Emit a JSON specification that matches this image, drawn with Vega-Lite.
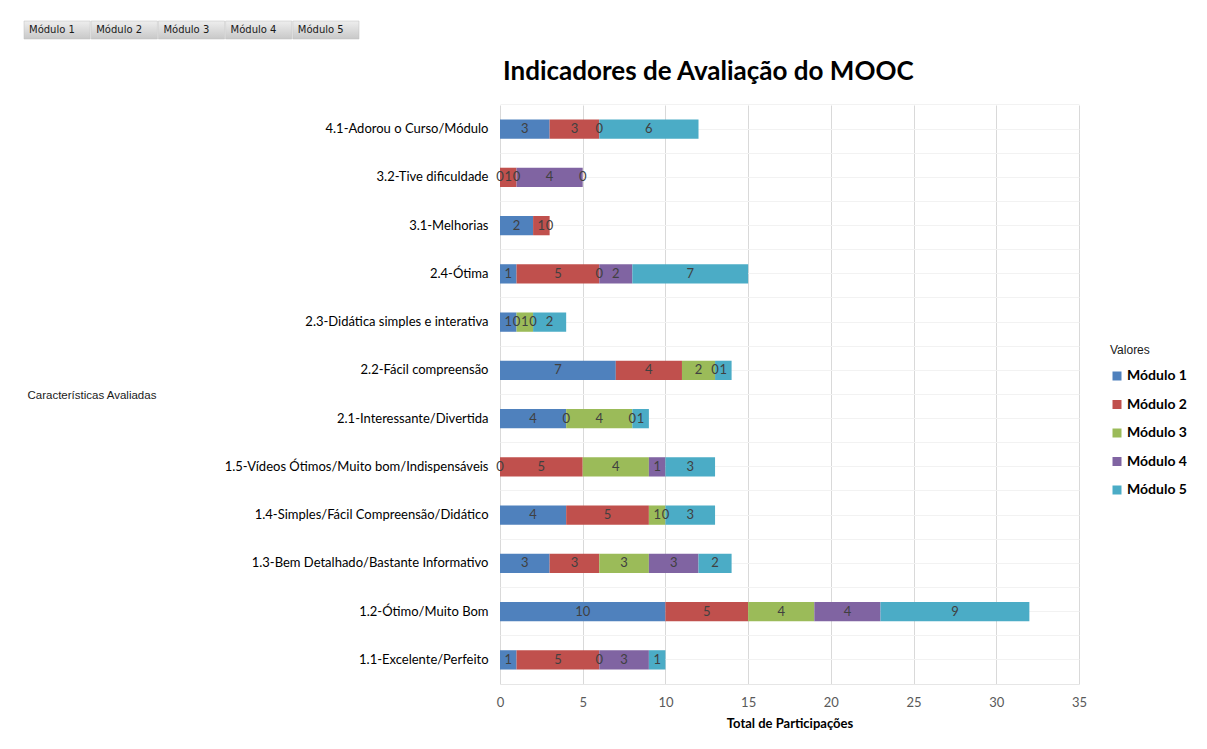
{
  "$schema": "https://vega.github.io/schema/vega-lite/v6.json",
  "background": "white",
  "padding": {"left": 23, "top": 20, "right": 0, "bottom": 0},
  "datasets": {
    "botoes": [
      {"modulo": "Módulo 1"},
      {"modulo": "Módulo 2"},
      {"modulo": "Módulo 3"},
      {"modulo": "Módulo 4"},
      {"modulo": "Módulo 5"}
    ],
    "dados": [
      {"cat": "4.1-Adorou o Curso/Módulo", "modulo": "Módulo 1", "v": 3},
      {"cat": "4.1-Adorou o Curso/Módulo", "modulo": "Módulo 2", "v": 3},
      {"cat": "4.1-Adorou o Curso/Módulo", "modulo": "Módulo 3", "v": 0},
      {"cat": "4.1-Adorou o Curso/Módulo", "modulo": "Módulo 5", "v": 6},
      {"cat": "3.2-Tive dificuldade", "modulo": "Módulo 1", "v": 0},
      {"cat": "3.2-Tive dificuldade", "modulo": "Módulo 2", "v": 1},
      {"cat": "3.2-Tive dificuldade", "modulo": "Módulo 3", "v": 0},
      {"cat": "3.2-Tive dificuldade", "modulo": "Módulo 4", "v": 4},
      {"cat": "3.2-Tive dificuldade", "modulo": "Módulo 5", "v": 0},
      {"cat": "3.1-Melhorias", "modulo": "Módulo 1", "v": 2},
      {"cat": "3.1-Melhorias", "modulo": "Módulo 2", "v": 1},
      {"cat": "3.1-Melhorias", "modulo": "Módulo 3", "v": 0},
      {"cat": "2.4-Ótima", "modulo": "Módulo 1", "v": 1},
      {"cat": "2.4-Ótima", "modulo": "Módulo 2", "v": 5},
      {"cat": "2.4-Ótima", "modulo": "Módulo 3", "v": 0},
      {"cat": "2.4-Ótima", "modulo": "Módulo 4", "v": 2},
      {"cat": "2.4-Ótima", "modulo": "Módulo 5", "v": 7},
      {"cat": "2.3-Didática simples e interativa", "modulo": "Módulo 1", "v": 1},
      {"cat": "2.3-Didática simples e interativa", "modulo": "Módulo 2", "v": 0},
      {"cat": "2.3-Didática simples e interativa", "modulo": "Módulo 3", "v": 1},
      {"cat": "2.3-Didática simples e interativa", "modulo": "Módulo 4", "v": 0},
      {"cat": "2.3-Didática simples e interativa", "modulo": "Módulo 5", "v": 2},
      {"cat": "2.2-Fácil compreensão", "modulo": "Módulo 1", "v": 7},
      {"cat": "2.2-Fácil compreensão", "modulo": "Módulo 2", "v": 4},
      {"cat": "2.2-Fácil compreensão", "modulo": "Módulo 3", "v": 2},
      {"cat": "2.2-Fácil compreensão", "modulo": "Módulo 4", "v": 0},
      {"cat": "2.2-Fácil compreensão", "modulo": "Módulo 5", "v": 1},
      {"cat": "2.1-Interessante/Divertida", "modulo": "Módulo 1", "v": 4},
      {"cat": "2.1-Interessante/Divertida", "modulo": "Módulo 2", "v": 0},
      {"cat": "2.1-Interessante/Divertida", "modulo": "Módulo 3", "v": 4},
      {"cat": "2.1-Interessante/Divertida", "modulo": "Módulo 4", "v": 0},
      {"cat": "2.1-Interessante/Divertida", "modulo": "Módulo 5", "v": 1},
      {"cat": "1.5-Vídeos Ótimos/Muito bom/Indispensáveis", "modulo": "Módulo 1", "v": 0},
      {"cat": "1.5-Vídeos Ótimos/Muito bom/Indispensáveis", "modulo": "Módulo 2", "v": 5},
      {"cat": "1.5-Vídeos Ótimos/Muito bom/Indispensáveis", "modulo": "Módulo 3", "v": 4},
      {"cat": "1.5-Vídeos Ótimos/Muito bom/Indispensáveis", "modulo": "Módulo 4", "v": 1},
      {"cat": "1.5-Vídeos Ótimos/Muito bom/Indispensáveis", "modulo": "Módulo 5", "v": 3},
      {"cat": "1.4-Simples/Fácil Compreensão/Didático", "modulo": "Módulo 1", "v": 4},
      {"cat": "1.4-Simples/Fácil Compreensão/Didático", "modulo": "Módulo 2", "v": 5},
      {"cat": "1.4-Simples/Fácil Compreensão/Didático", "modulo": "Módulo 3", "v": 1},
      {"cat": "1.4-Simples/Fácil Compreensão/Didático", "modulo": "Módulo 4", "v": 0},
      {"cat": "1.4-Simples/Fácil Compreensão/Didático", "modulo": "Módulo 5", "v": 3},
      {"cat": "1.3-Bem Detalhado/Bastante Informativo", "modulo": "Módulo 1", "v": 3},
      {"cat": "1.3-Bem Detalhado/Bastante Informativo", "modulo": "Módulo 2", "v": 3},
      {"cat": "1.3-Bem Detalhado/Bastante Informativo", "modulo": "Módulo 3", "v": 3},
      {"cat": "1.3-Bem Detalhado/Bastante Informativo", "modulo": "Módulo 4", "v": 3},
      {"cat": "1.3-Bem Detalhado/Bastante Informativo", "modulo": "Módulo 5", "v": 2},
      {"cat": "1.2-Ótimo/Muito Bom", "modulo": "Módulo 1", "v": 10},
      {"cat": "1.2-Ótimo/Muito Bom", "modulo": "Módulo 2", "v": 5},
      {"cat": "1.2-Ótimo/Muito Bom", "modulo": "Módulo 3", "v": 4},
      {"cat": "1.2-Ótimo/Muito Bom", "modulo": "Módulo 4", "v": 4},
      {"cat": "1.2-Ótimo/Muito Bom", "modulo": "Módulo 5", "v": 9},
      {"cat": "1.1-Excelente/Perfeito", "modulo": "Módulo 1", "v": 1},
      {"cat": "1.1-Excelente/Perfeito", "modulo": "Módulo 2", "v": 5},
      {"cat": "1.1-Excelente/Perfeito", "modulo": "Módulo 3", "v": 0},
      {"cat": "1.1-Excelente/Perfeito", "modulo": "Módulo 4", "v": 3},
      {"cat": "1.1-Excelente/Perfeito", "modulo": "Módulo 5", "v": 1}
    ]
  },
  "spacing": 19,
  "vconcat": [
    {
      "data": {"name": "botoes"},
      "width": 335,
      "height": 18,
      "view": {"stroke": null},
      "layer": [
        {
          "mark": {
            "type": "rect",
            "stroke": "#bfbfbf",
            "strokeWidth": 0.5,
            "color": {
              "gradient": "linear",
              "x1": 0, "y1": 0, "x2": 0, "y2": 1,
              "stops": [
                {"offset": 0, "color": "#eeeeee"},
                {"offset": 1, "color": "#c8c8c8"}
              ]
            }
          },
          "encoding": {
            "x": {"field": "modulo", "type": "nominal", "axis": null, "scale": {"paddingInner": 0.015, "paddingOuter": 0, "range": [-476, -141]}}
          }
        },
        {
          "mark": {"type": "text", "align": "left", "baseline": "middle", "dx": 5, "font": "DejaVu Sans", "fontSize": 10, "color": "#1a1a1a"},
          "encoding": {
            "x": {"field": "modulo", "type": "nominal", "axis": null, "bandPosition": 0},
            "y": {"value": 9},
            "text": {"field": "modulo"}
          }
        }
      ]
    },
    {
      "data": {"name": "dados"},
      "width": 579,
      "height": 579,
      "title": {
        "text": "Indicadores de Avaliação do MOOC",
        "anchor": "start",
        "frame": "group",
        "dx": 3,
        "font": "Lato",
        "fontSize": 26,
        "fontWeight": "bold",
        "color": "#000000",
        "offset": 20
      },
      "layer": [
        {
          "mark": {"type": "bar"},
          "encoding": {
            "y": {
              "field": "cat",
              "type": "nominal",
              "sort": [
                "4.1-Adorou o Curso/Módulo",
                "3.2-Tive dificuldade",
                "3.1-Melhorias",
                "2.4-Ótima",
                "2.3-Didática simples e interativa",
                "2.2-Fácil compreensão",
                "2.1-Interessante/Divertida",
                "1.5-Vídeos Ótimos/Muito bom/Indispensáveis",
                "1.4-Simples/Fácil Compreensão/Didático",
                "1.3-Bem Detalhado/Bastante Informativo",
                "1.2-Ótimo/Muito Bom",
                "1.1-Excelente/Perfeito"
              ],
              "scale": {"paddingInner": 0.6, "paddingOuter": 0.3},
              "axis": {
                "title": "Características Avaliadas",
                "titleAngle": 0,
                "titleAlign": "left",
                "titleBaseline": "middle",
                "titleX": -473,
                "titleY": 290,
                "titleFont": "Liberation Sans",
                "titleFontSize": 11.5,
                "titleFontWeight": "normal",
                "titleColor": "#1a1a1a",
                "labelFont": "Lato",
                "labelFontSize": 13,
                "labelColor": "#000000",
                "labelPadding": 12,
                "labelLimit": 0,
                "ticks": false,
                "domain": false,
                "grid": true,
                "bandPosition": 0.5,
                "gridColor": "#f2f2f2",
                "gridWidth": 1
              }
            },
            "x": {
              "field": "v",
              "type": "quantitative",
              "aggregate": "sum",
              "stack": "zero",
              "scale": {"domain": [0, 35], "nice": false},
              "axis": {
                "title": "Total de Participações",
                "titleFont": "Lato",
                "titleFontSize": 13,
                "titleFontWeight": "bold",
                "titleColor": "#000000",
                "titlePadding": 8,
                "values": [0, 5, 10, 15, 20, 25, 30, 35],
                "labelFont": "Lato",
                "labelFontSize": 13,
                "labelColor": "#595959",
                "labelPadding": 12,
                "labelFlush": false,
                "ticks": false,
                "domain": true,
                "domainColor": "#e6e6e6",
                "grid": true,
                "gridColor": "#d9d9d9"
              }
            },
            "color": {
              "field": "modulo",
              "type": "nominal",
              "scale": {
                "domain": ["Módulo 1", "Módulo 2", "Módulo 3", "Módulo 4", "Módulo 5"],
                "range": ["#4f81bd", "#c0504d", "#9bbb59", "#8064a2", "#4bacc6"]
              },
              "legend": {
                "title": "Valores",
                "orient": "none",
                "legendX": 610,
                "legendY": 324,
                "titleFont": "Liberation Sans",
                "titleFontSize": 12,
                "titleFontWeight": "normal",
                "titleColor": "#1a1a1a",
                "titlePadding": 12,
                "symbolType": "square",
                "symbolSize": 81,
                "symbolStrokeWidth": 0,
                "labelFont": "Lato",
                "labelFontSize": 14,
                "labelFontWeight": "bold",
                "labelColor": "#000000",
                "labelOffset": 3,
                "rowPadding": 14.5
              }
            },
            "order": {"field": "modulo", "sort": "ascending"}
          }
        },
        {
          "mark": {"type": "text", "baseline": "middle", "align": "center", "font": "Lato", "fontSize": 13, "color": "#404040"},
          "encoding": {
            "y": {
              "field": "cat",
              "type": "nominal",
              "sort": [
                "4.1-Adorou o Curso/Módulo",
                "3.2-Tive dificuldade",
                "3.1-Melhorias",
                "2.4-Ótima",
                "2.3-Didática simples e interativa",
                "2.2-Fácil compreensão",
                "2.1-Interessante/Divertida",
                "1.5-Vídeos Ótimos/Muito bom/Indispensáveis",
                "1.4-Simples/Fácil Compreensão/Didático",
                "1.3-Bem Detalhado/Bastante Informativo",
                "1.2-Ótimo/Muito Bom",
                "1.1-Excelente/Perfeito"
              ],
              "axis": {
                "title": null,
                "labels": false,
                "ticks": false,
                "domain": false,
                "grid": true,
                "bandPosition": -0.75,
                "gridColor": "#f2f2f2",
                "orient": "left"
              }
            },
            "x": {
              "field": "v",
              "type": "quantitative",
              "aggregate": "sum",
              "stack": "zero",
              "bandPosition": 0.5
            },
            "detail": {"field": "modulo"},
            "order": {"field": "modulo", "sort": "ascending"},
            "text": {"field": "v", "aggregate": "sum", "type": "quantitative"}
          }
        }
      ],
      "resolve": {"axis": {"y": "independent"}}
    }
  ],
  "config": {
    "view": {"stroke": null}
  }
}
